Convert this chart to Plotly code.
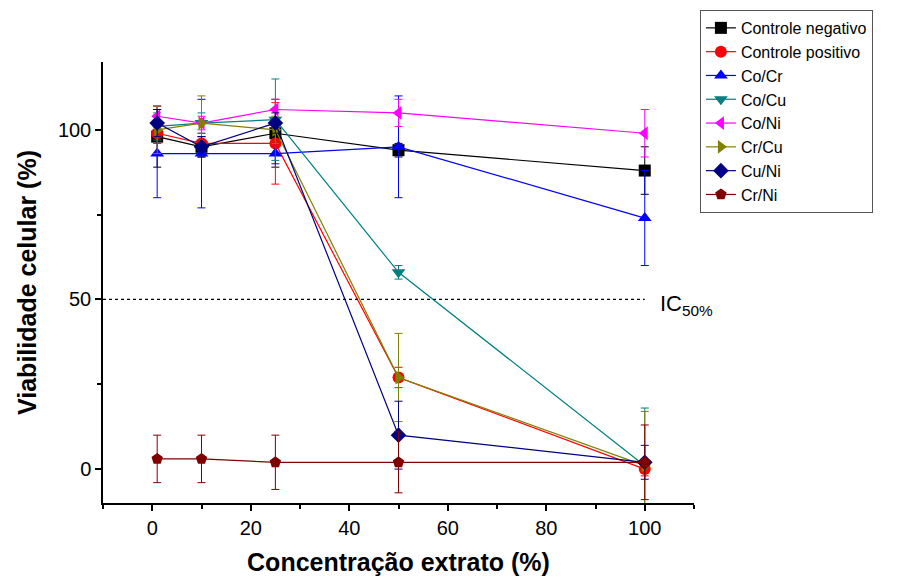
import plotly.graph_objects as go

conc = [1, 10, 25, 50, 100]

series_names = ["Controle negativo", "Controle positivo", "Co/Cr", "Co/Cu",
                "Co/Ni", "Cr/Cu", "Cu/Ni", "Cr/Ni"]
neg = [98, 95, 99, 94, 88]
neg_err = [9, 3, 10, 2, 7]
pos = [99, 96, 96, 27, 0]
pos_err = [3, 3, 12, 3, 2]
cocr = [93, 93, 93, 95, 74]
cocr_err = [13, 16, 3, 15, 14]
cocu = [101, 102, 103, 58, 1]
cocu_err = [4, 3, 12, 2, 17]
coni = [104, 102, 106, 105, 99]
coni_err = [3, 2, 3, 4, 7]
crcu = [100, 102, 100, 27, 1]
crcu_err = [7, 8, 4, 13, 16]
cuni = [102, 95, 102, 10, 2]
cuni_err = [4, 3, 3, 10, 5]
crni = [3, 3, 2, 2, 2]
crni_err = [7, 7, 8, 9, 11]

values = [neg, pos, cocr, cocu, coni, crcu, cuni, crni]
errors = [neg_err, pos_err, cocr_err, cocu_err, coni_err, crcu_err, cuni_err, crni_err]
colors = ["#000000", "#FF0000", "#0000FF", "#008080", "#FF00FF", "#808000", "#000080", "#800000"]
symbols = ["square", "circle", "triangle-up", "triangle-down", "triangle-left",
           "triangle-right", "diamond", "pentagon"]

FONT = "Liberation Sans, Arial, sans-serif"

fig = go.Figure()
for name, v, e, c, s in zip(series_names, values, errors, colors, symbols):
    fig.add_trace(go.Scatter(
        x=conc, y=v, name=name, mode="lines+markers",
        line=dict(color=c, width=1.2),
        marker=dict(symbol=s, color=c, size=12, line=dict(width=0)),
        error_y=dict(type="data", array=e, visible=True, color=c, thickness=1, width=4),
    ))

# IC50 reference line
fig.add_trace(go.Scatter(x=[-10, 100], y=[50, 50], mode="lines",
                         line=dict(color="black", width=1.2, dash="dot"),
                         showlegend=False, hoverinfo="skip"))

fig.add_annotation(x=102.6, y=50, xref="x", yref="y", xanchor="left", yanchor="middle",
                   text="IC<sub>50%</sub>", showarrow=False, yshift=-6,
                   font=dict(family=FONT, size=22, color="black"))

fig.update_layout(
    width=903, height=584,
    margin=dict(l=95, r=217, t=54, b=89, autoexpand=False),
    plot_bgcolor="white", paper_bgcolor="white",
    font=dict(family=FONT, color="black"),
    legend=dict(x=1.010, y=1.118, xanchor="left", yanchor="top",
                font=dict(family=FONT, size=16, color="black"),
                bordercolor="#555555", borderwidth=1, bgcolor="white",
                tracegroupgap=0),
)
fig.update_xaxes(
    range=[-10, 110], tickvals=[0, 20, 40, 60, 80, 100],
    showline=True, linecolor="black", linewidth=1.5, mirror=False,
    ticks="outside", ticklen=6, tickwidth=1.5, tickcolor="black",
    minor=dict(tickvals=[-10, 10, 30, 50, 70, 90, 110], ticks="outside", ticklen=4, tickcolor="black", tickwidth=1.5),
    showgrid=False, zeroline=False,
    tickfont=dict(family=FONT, size=20, color="black"),
    title=dict(text="<b>Concentração extrato (%)</b>", font=dict(family=FONT, size=25, color="black"), standoff=16),
)
fig.update_yaxes(
    range=[-10, 120], tickvals=[0, 50, 100],
    showline=True, linecolor="black", linewidth=1.5, mirror=False,
    ticks="outside", ticklen=6, tickwidth=1.5, tickcolor="black",
    minor=dict(tickvals=[25, 75], ticks="outside", ticklen=4, tickcolor="black", tickwidth=1.5),
    showgrid=False, zeroline=False,
    tickfont=dict(family=FONT, size=20, color="black"),
    title=dict(text="<b>Viabilidade celular (%)</b>", font=dict(family=FONT, size=25, color="black"), standoff=14),
)

fig.write_html("out.html")
